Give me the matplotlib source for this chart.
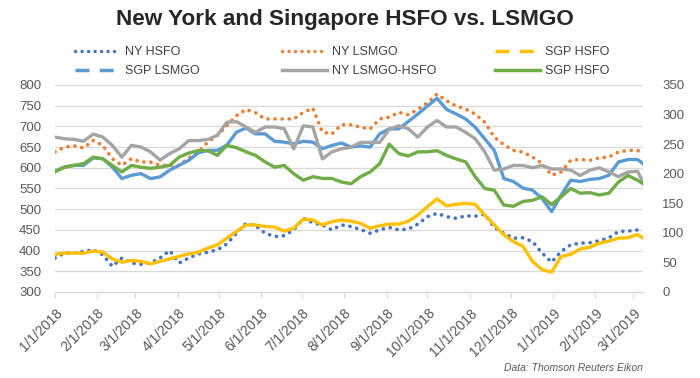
import matplotlib
matplotlib.use("Agg")
import matplotlib.pyplot as plt
from matplotlib.lines import Line2D
import pandas as pd

plt.rcParams['font.family'] = ['Liberation Sans', 'DejaVu Sans']

# weekly readings, last point is 3/8/2019
dates = list(pd.date_range("2018-01-01", periods=62, freq="7D")) + [pd.Timestamp("2019-03-08")]

ny_hsfo = [382, 394, 394, 398, 402, 390, 362, 382, 370, 367, 370, 382, 400, 370, 382, 392,
           396, 402, 416, 442, 466, 460, 442, 434, 436, 450, 478, 467, 462, 450, 462,
           458, 451, 442, 450, 456, 450, 452, 464, 482, 490, 482, 478, 484, 483, 488,
           456, 442, 430, 431, 422, 394, 372, 398, 414, 418, 419, 424, 431, 446, 447, 450, 447]

ny_lsmgo = [638, 650, 653, 648, 666, 654, 622, 606, 622, 614, 614, 606, 606, 606, 624, 638,
            662, 678, 702, 726, 741, 733, 718, 718, 718, 718, 734, 744, 686, 682, 704,
            704, 698, 694, 718, 722, 734, 728, 741, 757, 778, 762, 749, 742, 730, 710,
            674, 656, 642, 638, 626, 610, 582, 590, 618, 620, 618, 624, 626, 638, 642, 642, 636]

sgp_hsfo = [391, 394, 394, 394, 399, 396, 380, 372, 376, 374, 368, 374, 380, 386, 392, 396,
            406, 414, 430, 446, 462, 462, 458, 457, 447, 454, 476, 474, 462, 470, 474,
            471, 466, 454, 460, 464, 464, 471, 486, 506, 525, 508, 512, 514, 512, 486,
            462, 438, 422, 410, 374, 354, 348, 386, 391, 404, 408, 418, 423, 430, 431, 439, 430]

sgp_lsmgo = [592, 602, 606, 606, 624, 622, 602, 574, 582, 586, 574, 578, 594, 606, 618, 636,
             642, 642, 655, 686, 696, 682, 682, 664, 662, 658, 664, 662, 646, 654, 660,
             650, 653, 650, 682, 694, 694, 712, 730, 749, 768, 741, 730, 718, 698, 670,
             642, 574, 567, 551, 546, 526, 494, 534, 570, 567, 572, 574, 582, 614, 620, 620, 610]

# spreads, right axis
ny_spread = [262, 259, 258, 255, 267, 262, 248, 228, 248, 245, 237, 223, 234, 242, 256, 256,
             258, 265, 287, 288, 279, 270, 279, 279, 276, 242, 281, 279, 225, 237, 242,
             245, 253, 253, 253, 275, 281, 276, 262, 279, 290, 279, 279, 270, 259, 237,
             206, 208, 214, 214, 210, 214, 208, 208, 206, 197, 206, 210, 203, 195, 203, 204, 186]

sgp_spread = [203, 211, 214, 217, 228, 225, 214, 203, 214, 211, 209, 211, 214, 228, 235, 239,
              239, 231, 248, 244, 237, 231, 220, 211, 214, 200, 189, 195, 192, 192, 186,
              183, 195, 203, 217, 250, 234, 230, 237, 237, 239, 231, 225, 220, 195, 175,
              172, 147, 145, 153, 155, 161, 148, 161, 175, 167, 168, 164, 167, 186, 197, 189, 183]

month_ticks = pd.date_range("2018-01-01", "2019-03-01", freq="MS")
month_labels = [f"{d.month}/{d.day}/{d.year}" for d in month_ticks]

c_ny_hsfo = '#4472C4'
c_ny_lsmgo = '#ED7D31'
c_sgp_hsfo = '#FFC000'
c_sgp_lsmgo = '#5B9BD5'
c_ny_spread = '#A5A5A5'
c_sgp_spread = '#70AD47'
dot = (0, (0.05, 1.9))

fig = plt.figure(figsize=(7, 3.78), dpi=100)
ax = fig.add_axes([55/700, 1 - 292/378, (643 - 55)/700, (292 - 85)/378])
ax2 = ax.twinx()

ax.plot(dates, ny_hsfo, color=c_ny_hsfo, lw=2.6, linestyle=dot, dash_capstyle='round')
ax.plot(dates, ny_lsmgo, color=c_ny_lsmgo, lw=2.6, linestyle=dot, dash_capstyle='round')
ax.plot(dates, sgp_hsfo, color=c_sgp_hsfo, lw=2.4)
ax.plot(dates, sgp_lsmgo, color=c_sgp_lsmgo, lw=2.4)
ax2.plot(dates, ny_spread, color=c_ny_spread, lw=2.4)
ax2.plot(dates, sgp_spread, color=c_sgp_spread, lw=2.4)

ax.set_xlim(pd.Timestamp("2018-01-01"), pd.Timestamp("2019-03-08"))
ax.set_ylim(300, 800)
ax2.set_ylim(0, 350)
ax.set_yticks(range(300, 801, 50))
ax2.set_yticks(range(0, 351, 50))
ax.set_xticks(month_ticks)
ax.set_xticklabels(month_labels)
plt.setp(ax.get_xticklabels(), rotation=45, ha='right', rotation_mode='anchor')

ax.set_axisbelow(True)
ax.yaxis.grid(True, color='#D9D9D9', lw=0.9)
for s in ['top', 'left', 'right']:
    ax.spines[s].set_visible(False)
ax.spines['bottom'].set_color('#D9D9D9')
for s in ax2.spines.values():
    s.set_visible(False)

ax.tick_params(axis='y', length=0, pad=10, labelsize=9.5, labelcolor='#595959')
ax2.tick_params(axis='y', length=0, pad=14, labelsize=9.5, labelcolor='#595959')
ax.tick_params(axis='x', length=4, color='#D9D9D9', labelsize=10, labelcolor='#595959', pad=6)

# legend, three columns placed separately
cols = [
    [(Line2D([], [], color=c_ny_hsfo, lw=2.4, linestyle=dot, dash_capstyle='round'), 'NY HSFO'),
     (Line2D([], [], color=c_sgp_lsmgo, lw=2.5, linestyle=(0, (4, 3))), 'SGP LSMGO')],
    [(Line2D([], [], color=c_ny_lsmgo, lw=2.4, linestyle=dot, dash_capstyle='round'), 'NY LSMGO'),
     (Line2D([], [], color=c_ny_spread, lw=2.5), 'NY LSMGO-HSFO')],
    [(Line2D([], [], color=c_sgp_hsfo, lw=2.5, linestyle=(0, (4, 3))), 'SGP HSFO'),
     (Line2D([], [], color=c_sgp_spread, lw=2.5), 'SGP HSFO')],
]
xpos = [75, 282, 495]
for x, col in zip(xpos, cols):
    fig.legend([h for h, l in col], [l for h, l in col], loc='upper left',
               bbox_to_anchor=(x/700, 1 - 46/378), frameon=False, fontsize=9,
               handlelength=3.6, handletextpad=0.4, labelspacing=0.55,
               borderpad=0, borderaxespad=0, labelcolor='#404040')

fig.text(345/700, 1 - 19/378, "New York and Singapore HSFO vs. LSMGO", ha='center', va='center',
         fontsize=16.2, fontweight='bold', color='#262626')
fig.text(643/700, 1 - 368/378, "Data: Thomson Reuters Eikon", ha='right', va='center',
         fontsize=7.5, style='italic', color='#595959')

fig.savefig("out.png", dpi=100)
